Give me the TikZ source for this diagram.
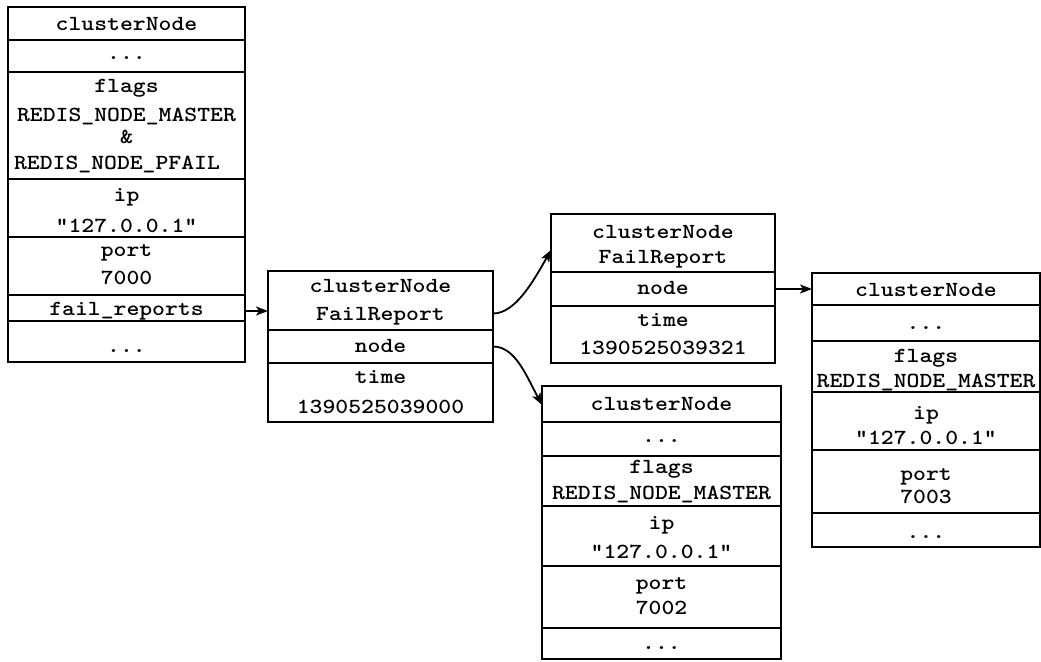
\documentclass[tikz,border=0pt]{standalone}
\usepackage{graphicx}
\usetikzlibrary{arrows.meta}
\newcommand\mtfont{\fontsize{21.5}{24}\selectfont\ttfamily\bfseries}
\newcommand\T[1]{\scalebox{1.14}[1]{#1}}
\tikzset{
  cell/.style={draw, line width=2.8pt, rectangle, inner sep=0pt, outer sep=0pt},
  txt/.style={font=\mtfont, inner sep=0pt, text height=12.5pt, text depth=0pt},
  dots/.style={font=\mtfont, inner sep=0pt, anchor=base},
  arr/.style={line width=1.8pt, -{Stealth[length=12pt,width=9pt,inset=3pt]}}
}
\begin{document}
\begin{tikzpicture}[x=1pt,y=-1pt]
\useasboundingbox (0,0) rectangle (1041,661);
% ---------- left clusterNode ----------
\begin{scope}[every node/.append style={minimum width=237pt}]
\node[cell, minimum height=33pt]  (L1) at (126.5,23.5) {};
\node[cell, minimum height=32pt]  (L2) at (126.5,56) {};
\node[cell, minimum height=107pt] (L3) at (126.5,125.5) {};
\node[cell, minimum height=58pt]  (L4) at (126.5,208) {};
\node[cell, minimum height=58pt]  (L5) at (126.5,266) {};
\node[cell, minimum height=26pt]  (L6) at (126.5,308) {};
\node[cell, minimum height=41pt]  (L7) at (126.5,341.5) {};
\end{scope}
\node[txt]  (l1t) at (126.5,24) {\T{clusterNode}};
\node[dots] (l2t) at (126.5,59.5) {\T{...}};
\node[txt]  (l3a) at (126.5,86) {\T{flags}};
\node[txt]  (l3b) at (126.5,115) {\T{REDIS\_NODE\_MASTER}};
\node[txt]  (l3c) at (126.5,137) {\T{\&}};
\node[txt]  (l3d) at (117,163) {\T{REDIS\_NODE\_PFAIL}};
\node[txt]  (l4a) at (126.5,195) {\T{ip}};
\node[txt]  (l4b) at (126.5,226) {\T{"127.0.0.1"}};
\node[txt]  (l5a) at (126.5,250) {\T{port}};
\node[txt]  (l5b) at (126.5,278) {\T{7000}};
\node[txt]  (l6t) at (126.5,309) {\T{fail\_reports}};
\node[dots] (l7t) at (126.5,352.5) {\T{...}};
% ---------- middle FailReport ----------
\begin{scope}[every node/.append style={minimum width=225pt}]
\node[cell, minimum height=59pt] (M1) at (380.5,300.5) {};
\node[cell, minimum height=33pt] (M2) at (380.5,346.5) {};
\node[cell, minimum height=59pt] (M3) at (380.5,392.5) {};
\end{scope}
\node[txt] (m1a) at (380.5,286) {\T{clusterNode}};
\node[txt] (m1b) at (380.5,314) {\T{FailReport}};
\node[txt] (m2t) at (380.5,346) {\T{node}};
\node[txt] (m3a) at (380.5,377) {\T{time}};
\node[txt] (m3b) at (380.5,407) {\T{1390525039000}};
% ---------- top-right FailReport ----------
\begin{scope}[every node/.append style={minimum width=224pt}]
\node[cell, minimum height=58pt] (T1) at (663,243) {};
\node[cell, minimum height=34pt] (T2) at (663,289) {};
\node[cell, minimum height=57pt] (T3) at (663,334.5) {};
\end{scope}
\node[txt] (t1a) at (663,232) {\T{clusterNode}};
\node[txt] (t1b) at (663,257) {\T{FailReport}};
\node[txt] (t2t) at (663,288) {\T{node}};
\node[txt] (t3a) at (663,320) {\T{time}};
\node[txt] (t3b) at (663,348) {\T{1390525039321}};
% ---------- bottom clusterNode ----------
\begin{scope}[every node/.append style={minimum width=239pt}]
\node[cell, minimum height=36pt] (B1) at (661.5,404) {};
\node[cell, minimum height=34pt] (B2) at (661.5,439) {};
\node[cell, minimum height=50pt] (B3) at (661.5,481) {};
\node[cell, minimum height=60pt] (B4) at (661.5,536) {};
\node[cell, minimum height=62pt] (B5) at (661.5,597) {};
\node[cell, minimum height=31pt] (B6) at (661.5,643.5) {};
\end{scope}
\node[txt]  (b1t) at (661.5,404) {\T{clusterNode}};
\node[dots] (b2t) at (661.5,442.5) {\T{...}};
\node[txt]  (b3a) at (661.5,467) {\T{flags}};
\node[txt]  (b3b) at (661.5,493) {\T{REDIS\_NODE\_MASTER}};
\node[txt]  (b4a) at (661.5,523) {\T{ip}};
\node[txt]  (b4b) at (661.5,552) {\T{"127.0.0.1"}};
\node[txt]  (b5a) at (661.5,583) {\T{port}};
\node[txt]  (b5b) at (661.5,608) {\T{7002}};
\node[dots] (b6t) at (661.5,649.5) {\T{...}};
% ---------- right clusterNode ----------
\begin{scope}[every node/.append style={minimum width=228pt}]
\node[cell, minimum height=32pt] (R1) at (926,289) {};
\node[cell, minimum height=36pt] (R2) at (926,323) {};
\node[cell, minimum height=51pt] (R3) at (926,366.5) {};
\node[cell, minimum height=58pt] (R4) at (926,421) {};
\node[cell, minimum height=63pt] (R5) at (926,481.5) {};
\node[cell, minimum height=34pt] (R6) at (926,530) {};
\end{scope}
\node[txt]  (r1t) at (926,290) {\T{clusterNode}};
\node[dots] (r2t) at (926,329.5) {\T{...}};
\node[txt]  (r3a) at (926,356) {\T{flags}};
\node[txt]  (r3b) at (926,381) {\T{REDIS\_NODE\_MASTER}};
\node[txt]  (r4a) at (926,413) {\T{ip}};
\node[txt]  (r4b) at (926,438) {\T{"127.0.0.1"}};
\node[txt]  (r5a) at (926,474) {\T{port}};
\node[txt]  (r5b) at (926,497) {\T{7003}};
\node[dots] (r6t) at (926,538.5) {\T{...}};
% ---------- connectors ----------
\draw[arr] ([yshift=-3pt]L6.east) -- ([yshift=-3pt]L6.east -| M1.west);
\draw[arr] ([yshift=-13pt]M1.east) .. controls +(22,0) and +(-18,32) .. ([yshift=-7pt]T1.west);
\draw[arr] (M2.east) .. controls +(22,0) and +(-16,-30) .. ([yshift=-1pt]B1.west);
\draw[arr] (T2.east) -- (T2.east -| R1.west);
\end{tikzpicture}
\end{document}
